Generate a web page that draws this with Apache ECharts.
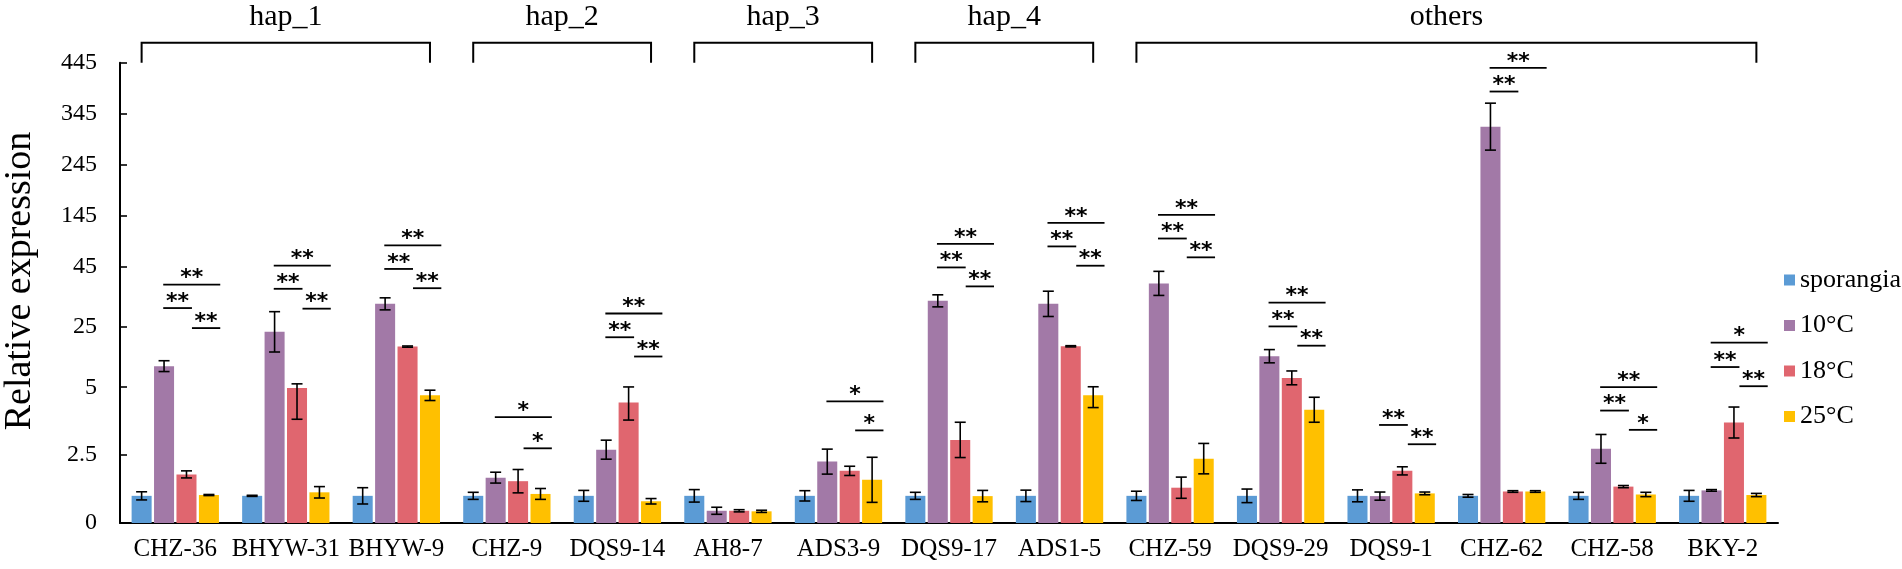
<!DOCTYPE html>
<html>
<head>
<meta charset="utf-8">
<script src="https://cdn.jsdelivr.net/npm/echarts@6/dist/echarts.min.js"></script>
<style>
html,body{margin:0;padding:0;background:#fff;}
#chart{width:1902px;height:569px;}
</style>
</head>
<body>
<div id="chart"></div>
<script>
// ---------------- data ----------------
const categories = ['CHZ-36','BHYW-31','BHYW-9','CHZ-9','DQS9-14','AH8-7','ADS3-9','DQS9-17','ADS1-5','CHZ-59','DQS9-29','DQS9-1','CHZ-62','CHZ-58','BKY-2'];
const seriesNames = ['sporangia','10°C','18°C','25°C'];

const sporangia    = [1, 1, 1, 1, 1, 1, 1, 1, 1, 1, 1, 1, 1, 1, 1];
const sporangiaErr = [0.15, 0.02, 0.3, 0.13, 0.2, 0.23, 0.19, 0.13, 0.21, 0.17, 0.25, 0.22, 0.05, 0.13, 0.2];
const c10    = [12.0, 23.4, 32.7, 1.67, 2.7, 0.45, 2.26, 33.7, 32.7, 39.5, 15.3, 0.99, 319.7, 2.73, 1.2];
const c10Err = [1.8, 6.7, 2.0, 0.2, 0.35, 0.13, 0.46, 2.0, 4.2, 4.0, 2.2, 0.15, 46, 0.53, 0.03];
const c18    = [1.79, 4.97, 18.5, 1.54, 4.44, 0.45, 1.92, 3.06, 18.6, 1.3, 8.1, 1.92, 1.16, 1.34, 3.7];
const c18Err = [0.13, 1.15, 0.2, 0.43, 0.65, 0.04, 0.17, 0.65, 0.2, 0.39, 2.3, 0.15, 0.03, 0.04, 0.57];
const c25    = [1.03, 1.13, 4.7, 1.07, 0.8, 0.43, 1.59, 0.99, 4.7, 2.37, 4.17, 1.09, 1.16, 1.05, 1.03];
const c25Err = [0.02, 0.21, 0.19, 0.2, 0.1, 0.04, 0.83, 0.21, 0.45, 0.56, 0.46, 0.05, 0.03, 0.08, 0.06];

const tickLabels = ['0','2.5','5','25','45','145','245','345','445'];
const tickValues = [0, 2.5, 5, 25, 45, 145, 245, 345, 445];

// significance annotations: level of each comparison line (in expression units) and its mark
const sigTop       = [39.1, 47.2, 87.2, 3.9, 29.5, null, 4.48, 89.9, 131.1, 146.8, 33.1, null, 434.8, 5.0, 19.8];
const sigTopMark   = ['**','**','**','*','**','','*','**','**','**','**','','**','**','*'];
const sigLeft      = [31.3, 37.7, 44.3, null, 21.6, null, null, 44.8, 85, 100.5, 25.2, 3.61, 388.5, 4.14, 11.7];
const sigLeftMark  = ['**','**','**','','**','','','**','**','**','**','**','**','**','**'];
const sigRight     = [24.65, 31.1, 37.9, 2.75, 15.2, null, 3.41, 38.5, 47.2, 63.6, 18.8, 2.9, null, 3.43, 5.33];
const sigRightMark = ['**','**','**','*','**','','*','**','**','**','**','**','','*','**'];

// haplotype groups
const groupNames = ['hap_1','hap_2','hap_3','hap_4','others'];
const groupStart = [0, 3, 5, 7, 9];
const groupEnd   = [2, 4, 6, 8, 14];

// ---------------- scale (segmented axis) ----------------
const KNOTS = [[0,0],[5,135.7],[45,256],[445,460]];
function T(v){
  for (let k = 1; k < KNOTS.length; k++){
    const [x0,y0] = KNOTS[k-1], [x1,y1] = KNOTS[k];
    if (v <= x1 || k === KNOTS.length-1) return y0 + (v - x0) * (y1 - y0) / (x1 - x0);
  }
}
const AX_MAX = T(445);

const colors = ['#5B9BD5','#A279A7','#E0666F','#FFC000'];
const values = [sporangia, c10, c18, c25];
const errs = [sporangiaErr, c10Err, c18Err, c25Err];

const CAT_GAP = 0.21, BAR_GAP = 0.12, NBAR = 4;
function barOffset(api, s){
  const band = api.size([1,0])[0];
  const usable = band * (1 - CAT_GAP);
  const w = usable / (NBAR + (NBAR-1)*BAR_GAP);
  return -usable/2 + w/2 + s*w*(1+BAR_GAP);
}

const FONT = '"Liberation Serif","Times New Roman",serif';

// error bar data
const errData = [];
for (let s = 0; s < 4; s++){
  for (let i = 0; i < categories.length; i++){
    errData.push([i, T(Math.max(0, values[s][i] - errs[s][i])), T(values[s][i] + errs[s][i]), s]);
  }
}

// significance data
const sigItems = [];
for (let i = 0; i < categories.length; i++){
  if (sigTop[i] != null) sigItems.push({cat:i, v:sigTop[i], type:'top', mark:sigTopMark[i]});
  if (sigLeft[i] != null) sigItems.push({cat:i, v:sigLeft[i], type:'left', mark:sigLeftMark[i]});
  if (sigRight[i] != null) sigItems.push({cat:i, v:sigRight[i], type:'right', mark:sigRightMark[i]});
}
const sigData = sigItems.map(d => [d.cat, T(d.v)]);
const SIG_SPAN = {top:[-0.109, 0.407], left:[-0.109, 0.151], right:[0.151, 0.407]};

const groupData = groupNames.map((n,k) => [groupStart[k], 0]);

const series = [];
for (let s = 0; s < 4; s++){
  series.push({
    name: seriesNames[s], type:'bar',
    data: values[s].map(T),
    itemStyle:{color:colors[s]},
    barCategoryGap: (CAT_GAP*100)+'%', barGap: (BAR_GAP*100)+'%',
    emphasis:{disabled:true}
  });
}
series.push({
  type:'custom', name:'err', silent:true, clip:false, z:5,
  data: errData, encode:{x:0, y:[1,2]},
  renderItem(params, api){
    const i = api.value(0), s = api.value(3);
    const x = api.coord([i, 0])[0] + barOffset(api, s);
    const y1 = api.coord([i, api.value(1)])[1];
    const y2 = api.coord([i, api.value(2)])[1];
    const hw = 5.5;
    const st = {stroke:'#000', lineWidth:1.6};
    return {type:'group', children:[
      {type:'line', shape:{x1:x, y1:y1, x2:x, y2:y2}, style:st},
      {type:'line', shape:{x1:x-hw, y1:y1, x2:x+hw, y2:y1}, style:st},
      {type:'line', shape:{x1:x-hw, y1:y2, x2:x+hw, y2:y2}, style:st}
    ]};
  }
});
series.push({
  type:'custom', name:'sig', silent:true, clip:false, z:6,
  data: sigData, encode:{x:0, y:1},
  renderItem(params, api){
    const d = sigItems[params.dataIndex];
    const band = api.size([1,0])[0];
    const p = api.coord([api.value(0), api.value(1)]);
    const span = SIG_SPAN[d.type];
    const xa = p[0] + span[0]*band, xb = p[0] + span[1]*band;
    return {type:'group', children:[
      {type:'line', shape:{x1:xa, y1:p[1], x2:xb, y2:p[1]}, style:{stroke:'#000', lineWidth:1.8}},
      {type:'text', x:(xa+xb)/2, y:p[1]-6, style:{text:d.mark, fill:'#000', fontSize:22, fontWeight:'bold', fontFamily:'"DejaVu Sans",sans-serif', align:'center', verticalAlign:'middle'}}
    ]};
  }
});
series.push({
  type:'custom', name:'groups', silent:true, clip:false, z:6,
  data: groupData, encode:{x:0, y:1},
  renderItem(params, api){
    const k = params.dataIndex;
    const xa = api.coord([groupStart[k], 0])[0] + barOffset(api, 0);
    const xb = api.coord([groupEnd[k], 0])[0] + barOffset(api, 3);
    const top = api.coord([0, AX_MAX])[1];
    const yl = top - 20, yb = top;
    const st = {stroke:'#000', lineWidth:2, fill:null};
    return {type:'group', children:[
      {type:'polyline', shape:{points:[[xa,yb],[xa,yl],[xb,yl],[xb,yb]]}, style:st},
      {type:'text', x:(xa+xb)/2, y:top-46, style:{text:groupNames[k], fill:'#000', fontSize:30, fontFamily:FONT, align:'center', verticalAlign:'middle'}}
    ]};
  }
});

const chart = echarts.init(document.getElementById('chart'), null, {renderer:'canvas'});
chart.setOption({
  animation:false,
  backgroundColor:'#fff',
  grid:{left:120, right:124, top:62.7, bottom:46, containLabel:false},
  legend:{
    data: seriesNames, orient:'vertical', left:1779, top:262,
    itemWidth:11, itemHeight:11, itemGap:19.5, icon:'rect',
    textStyle:{fontSize:26, fontFamily:FONT, color:'#000', lineHeight:26},
    selectedMode:false
  },
  xAxis:{
    type:'category', data:categories,
    axisLine:{lineStyle:{color:'#000', width:2}},
    axisTick:{show:false},
    axisLabel:{interval:0, fontSize:25, fontFamily:FONT, color:'#000', margin:14}
  },
  yAxis:{
    type:'value', min:0, max:AX_MAX,
    axisLine:{show:true, lineStyle:{color:'#000', width:2}},
    axisTick:{show:true, inside:true, length:7, lineStyle:{color:'#000', width:1.6}, customValues: tickValues.map(T)},
    splitLine:{show:false},
    axisLabel:{
      fontSize:24, fontFamily:FONT, color:'#000', margin:23,
      customValues: tickValues.map(T),
      formatter: function(v){
        let best = 0, bd = Infinity;
        tickValues.forEach((t,k)=>{ const dd = Math.abs(T(t)-v); if (dd<bd){bd=dd;best=k;} });
        return tickLabels[best];
      }
    }
  },
  graphic:[{
    type:'text', x:20, y:281, rotation:Math.PI/2,
    style:{text:'Relative expression', fontSize:38, fontFamily:FONT, fill:'#000', align:'center', verticalAlign:'middle'}
  }],
  series: series
});
</script>
</body>
</html>
